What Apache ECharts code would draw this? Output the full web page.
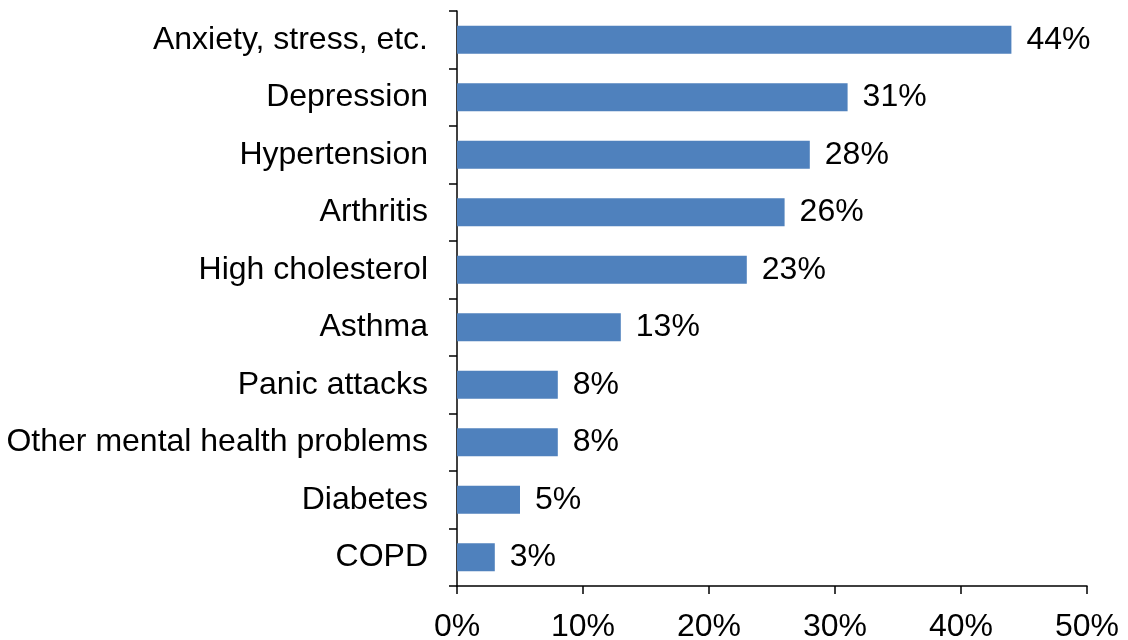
<!DOCTYPE html>
<html>
<head>
<meta charset="utf-8">
<script src="https://cdn.jsdelivr.net/npm/echarts@6/dist/echarts.min.js"></script>
<style>html,body{margin:0;padding:0;background:#fff;}#c{width:1128px;height:640px;}</style>
</head>
<body>
<div id="c"></div>
<script>
const categories = ["COPD", "Diabetes", "Other mental health problems", "Panic attacks", "Asthma", "High cholesterol", "Arthritis", "Hypertension", "Depression", "Anxiety, stress, etc."];
const values = [3, 5, 8, 8, 13, 23, 26, 28, 31, 44];
const xTicks = [0, 10, 20, 30, 40, 50];

const chart = echarts.init(document.getElementById('c'), null, {renderer: 'canvas'});
const font = 'Liberation Sans, Arial, sans-serif';
chart.setOption({
  animation: false,
  grid: {left: 457, right: 41, top: 11, bottom: 54, containLabel: false, outerBoundsMode: 'none'},
  xAxis: {
    type: 'value', min: xTicks[0], max: xTicks[xTicks.length - 1], interval: 10,
    axisLine: {show: true, lineStyle: {color: '#000', width: 1.5}},
    axisTick: {show: true, length: 8, lineStyle: {color: '#000', width: 1.5}},
    splitLine: {show: false},
    axisLabel: {formatter: '{value}%', color: '#000', fontSize: 32, fontFamily: font, margin: 25}
  },
  yAxis: {
    type: 'category', data: categories,
    axisLine: {show: true, lineStyle: {color: '#000', width: 1.5}},
    axisTick: {show: true, length: 8, lineStyle: {color: '#000', width: 1.5}},
    axisLabel: {color: '#000', fontSize: 32, fontFamily: font, margin: 29}
  },
  series: [{
    type: 'bar', data: values, barWidth: '49%',
    itemStyle: {color: '#4F81BD'},
    label: {show: true, position: 'right', distance: 15, formatter: '{c}%', color: '#000', fontSize: 32, fontFamily: font}
  }]
});
</script>
</body>
</html>
